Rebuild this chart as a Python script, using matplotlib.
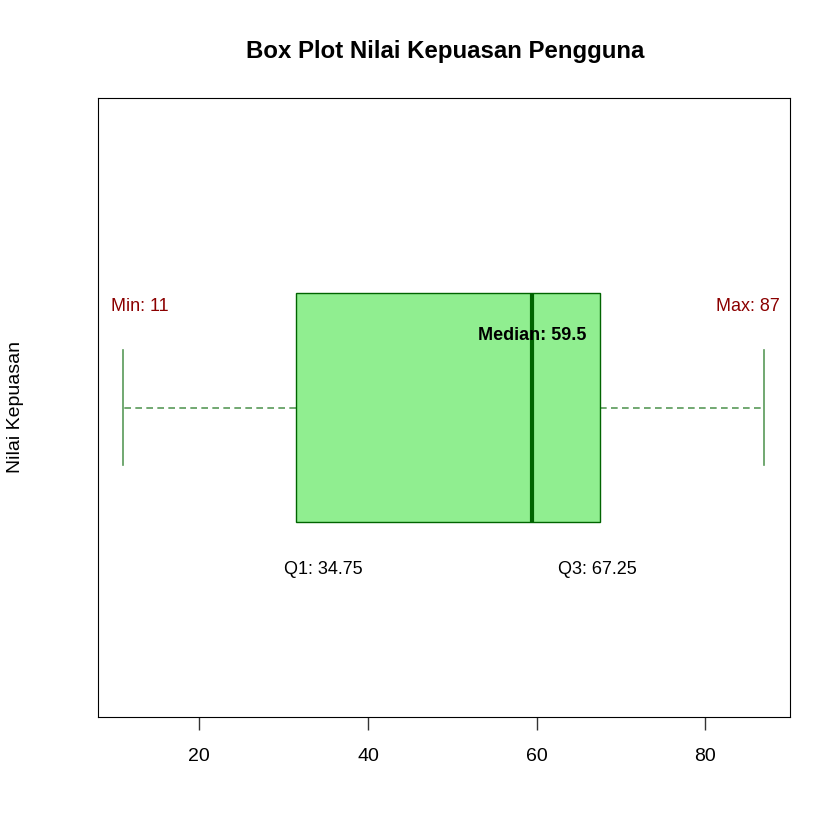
import matplotlib
matplotlib.use("Agg")
import matplotlib.pyplot as plt

plt.rcParams['font.family'] = ['Liberation Sans', 'DejaVu Sans']

# five number summary of the satisfaction scores
v_min = 11
v_q1 = 34.75
v_med = 59.5
v_q3 = 67.25
v_max = 87
# hinges as R draws the box
hinge_lo = 31.5
hinge_hi = 67.5

ticks = [20, 40, 60, 80]

fig = plt.figure(figsize=(8.4, 8.4), dpi=100)
ax = fig.add_axes([0.1163, 0.1464, 0.8242, 0.7369])

stats = [{"whislo": v_min, "q1": hinge_lo, "med": v_med, "q3": hinge_hi, "whishi": v_max, "fliers": []}]
ax.bxp(stats, positions=[1], vert=False, widths=0.37, capwidths=0.185,
       patch_artist=True, showfliers=False,
       boxprops=dict(facecolor="#90EE90", edgecolor="#006400", linewidth=1),
       medianprops=dict(color="#006400", linewidth=3, solid_capstyle="butt"),
       whiskerprops=dict(color="#006400", alpha=0.65, linewidth=1.2, dashes=(4, 2.6)),
       capprops=dict(color="#006400", alpha=0.65, linewidth=1.2))

ax.set_xlim(v_min - 0.04 * (v_max - v_min), v_max + 0.04 * (v_max - v_min))
ax.set_ylim(0.5, 1.5)
ax.set_yticks([])
ax.set_xticks(ticks)
ax.tick_params(axis="x", length=9, width=1, color="#333333", labelsize=14, pad=13)

ax.text(v_min + 2, 1.164, f"Min: {v_min}", color="#8B0000", fontsize=13, ha="center", va="center")
ax.text(v_max - 2, 1.164, f"Max: {v_max}", color="#8B0000", fontsize=13, ha="center", va="center")
ax.text(v_med, 1.117, f"Median: {v_med}", color="black", fontsize=13, fontweight="bold", ha="center", va="center")
ax.text(v_q1, 0.738, f"Q1: {v_q1}", color="black", fontsize=13, ha="center", va="center")
ax.text(v_q3, 0.738, f"Q3: {v_q3}", color="black", fontsize=13, ha="center", va="center")

fig.text(0.5298, 0.939, "Box Plot Nilai Kepuasan Pengguna", fontsize=17.3, fontweight="bold", ha="center", va="center")
fig.text(0.019, 0.5155, "Nilai Kepuasan", fontsize=14, rotation=90, ha="center", va="center")

fig.savefig("out.png", dpi=100)
